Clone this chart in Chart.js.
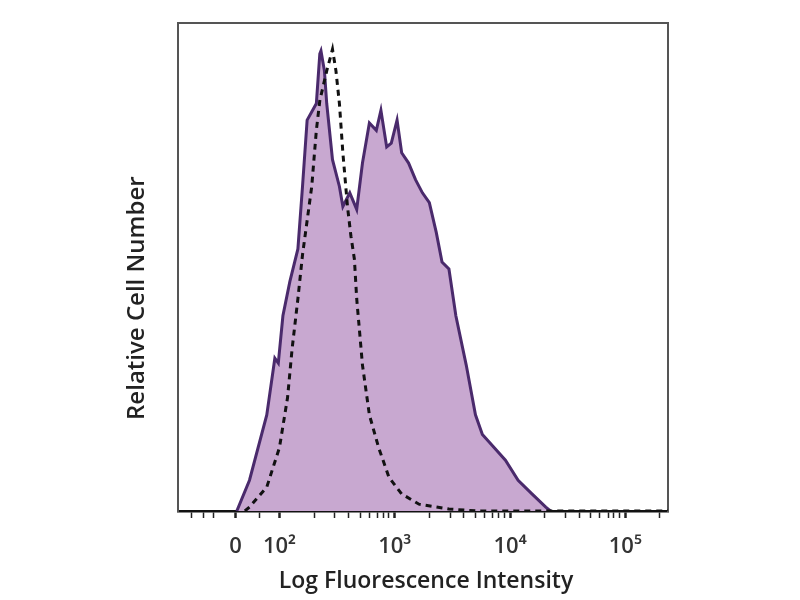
<!DOCTYPE html>
<html>
<head>
<meta charset="utf-8">
<script src="https://cdn.jsdelivr.net/npm/chart.js@4/dist/chart.umd.min.js"></script>
<style>
  html, body { margin: 0; padding: 0; background: #fff; }
  canvas { display: block; }
</style>
</head>
<body>
<canvas id="histo" width="800" height="600"></canvas>
<script>
// x in display "decades" (10^2 -> 2, 10^3 -> 3 ...), y = relative cell number (% of max)
const stainedX = [1.63, 1.74, 1.89, 1.96, 1.99, 2.03, 2.09, 2.16, 2.20, 2.24, 2.32, 2.35, 2.36, 2.39, 2.41,
                  2.46, 2.52, 2.55, 2.61, 2.67, 2.72, 2.78, 2.84, 2.88, 2.93, 2.97, 3.02, 3.06, 3.12, 3.18,
                  3.24, 3.30, 3.36, 3.41, 3.47, 3.53, 3.62, 3.70, 3.76, 3.84, 3.96, 4.07, 4.19, 4.31, 4.35];
const stainedY = [0, 6.3, 19.7, 31.3, 30.3, 40.0, 47.0, 53.7, 66.5, 80.1, 83.5, 93.7, 94.3, 90.2, 83.5,
                  72.0, 66.5, 62.4, 65.2, 61.8, 71.3, 79.5, 78.0, 82.1, 74.6, 75.4, 80.1, 73.4, 71.3, 67.9,
                  65.2, 63.2, 57.1, 51.0, 49.6, 40.0, 29.9, 19.7, 15.7, 13.6, 10.4, 6.3, 3.5, 0.8, 0];

const controlX = [1.70, 1.74, 1.89, 2.00, 2.07, 2.11, 2.16, 2.20, 2.28, 2.32, 2.35, 2.41, 2.45, 2.46,
                  2.49, 2.52, 2.55, 2.59, 2.62, 2.65, 2.67, 2.72, 2.78, 2.86, 2.95, 3.06, 3.21, 3.47, 3.73, 5.37];
const controlY = [0, 0.8, 4.9, 13.0, 23.2, 33.3, 43.5, 52.5, 66.5, 78.0, 84.1, 90.2, 93.7, 94.6,
                  90.2, 83.5, 73.4, 62.4, 56.3, 51.6, 43.5, 29.9, 19.7, 13.0, 6.9, 3.5, 1.4, 0.4, 0, 0];

const majorTicks  = [1.62, 2, 3, 4, 5];
const majorLabels = ['0', '10\u00B2', '10\u00B3', '10\u2074', '10\u2075'];
const minorTicks  = [1.24, 1.34, 1.43, 1.83,
                     2.30, 2.48, 2.60, 2.70, 2.78, 2.85, 2.90, 2.95,
                     3.30, 3.48, 3.60, 3.70, 3.78, 3.85, 3.90, 3.95,
                     4.30, 4.48, 4.60, 4.70, 4.78, 4.85, 4.90, 4.95,
                     5.30];

const X_MIN = 1.12, X_MAX = 5.37;

const toPoints = (xs, ys) => xs.map((x, i) => ({ x: x, y: ys[i] }));

new Chart(document.getElementById('histo').getContext('2d'), {
  type: 'line',
  data: {
    datasets: [
      {
        label: 'Isotype control',
        data: toPoints(controlX, controlY),
        borderColor: '#111111',
        borderWidth: 3,
        borderDash: [6, 5],
        fill: false,
        pointRadius: 0,
        tension: 0,
        order: 0
      },
      {
        label: 'Stained',
        data: toPoints(stainedX, stainedY),
        borderColor: '#4a2a6c',
        backgroundColor: '#c8a8d0',
        borderWidth: 3,
        fill: 'origin',
        pointRadius: 0,
        tension: 0,
        order: 1
      }
    ]
  },
  options: {
    responsive: false,
    animation: false,
    layout: { padding: { left: 119, right: 132, top: 23, bottom: 0 } },
    plugins: { legend: { display: false }, tooltip: { enabled: false } },
    scales: {
      x: {
        type: 'linear',
        position: 'bottom',
        min: X_MIN, max: X_MAX,
        afterBuildTicks: scale => {
          scale.ticks = majorTicks.concat(minorTicks).sort((a, b) => a - b).map(v => ({ value: v }));
        },
        afterFit: scale => { scale.height = 89; },
        ticks: {
          autoSkip: false,
          maxRotation: 0,
          padding: 16,
          color: '#333',
          font: { family: '"Open Sans", sans-serif', size: 22, weight: '600' },
          callback: val => {
            const i = majorTicks.indexOf(val);
            return i >= 0 ? majorLabels[i] : '';
          }
        },
        grid: {
          drawOnChartArea: false,
          drawTicks: true,
          tickLength: 7,
          color: '#222',
          tickWidth: c => (c.tick && majorTicks.includes(c.tick.value)) ? 2.5 : 1.5
        },
        border: { display: true, color: '#111', width: 2.5 },
        title: {
          display: true,
          text: '\u00A0Log Fluorescence Intensity',
          color: '#222',
          padding: { top: 0, bottom: 5 },
          font: { family: '"Open Sans", sans-serif', size: 23, weight: '600' }
        }
      },
      xTop: {
        type: 'linear',
        position: 'top',
        min: X_MIN, max: X_MAX,
        afterFit: scale => { scale.height = 0; },
        ticks: { display: false },
        grid: { display: false },
        border: { display: true, color: '#555', width: 2 }
      },
      y: {
        type: 'linear',
        position: 'left',
        min: 0, max: 100,
        afterFit: scale => { scale.width = 59; },
        ticks: { display: false },
        grid: { display: false },
        border: { display: true, color: '#555', width: 2 },
        title: {
          display: true,
          // trailing spaces push the label down, as in the original
          text: 'Relative Cell Number' + '\u00A0'.repeat(10),
          color: '#222',
          padding: { top: 4, bottom: 0 },
          font: { family: '"Open Sans", sans-serif', size: 24, weight: '600' }
        }
      },
      yRight: {
        type: 'linear',
        position: 'right',
        min: 0, max: 100,
        afterFit: scale => { scale.width = 0; },
        ticks: { display: false },
        grid: { display: false },
        border: { display: true, color: '#555', width: 2 }
      }
    }
  }
});
</script>
</body>
</html>
